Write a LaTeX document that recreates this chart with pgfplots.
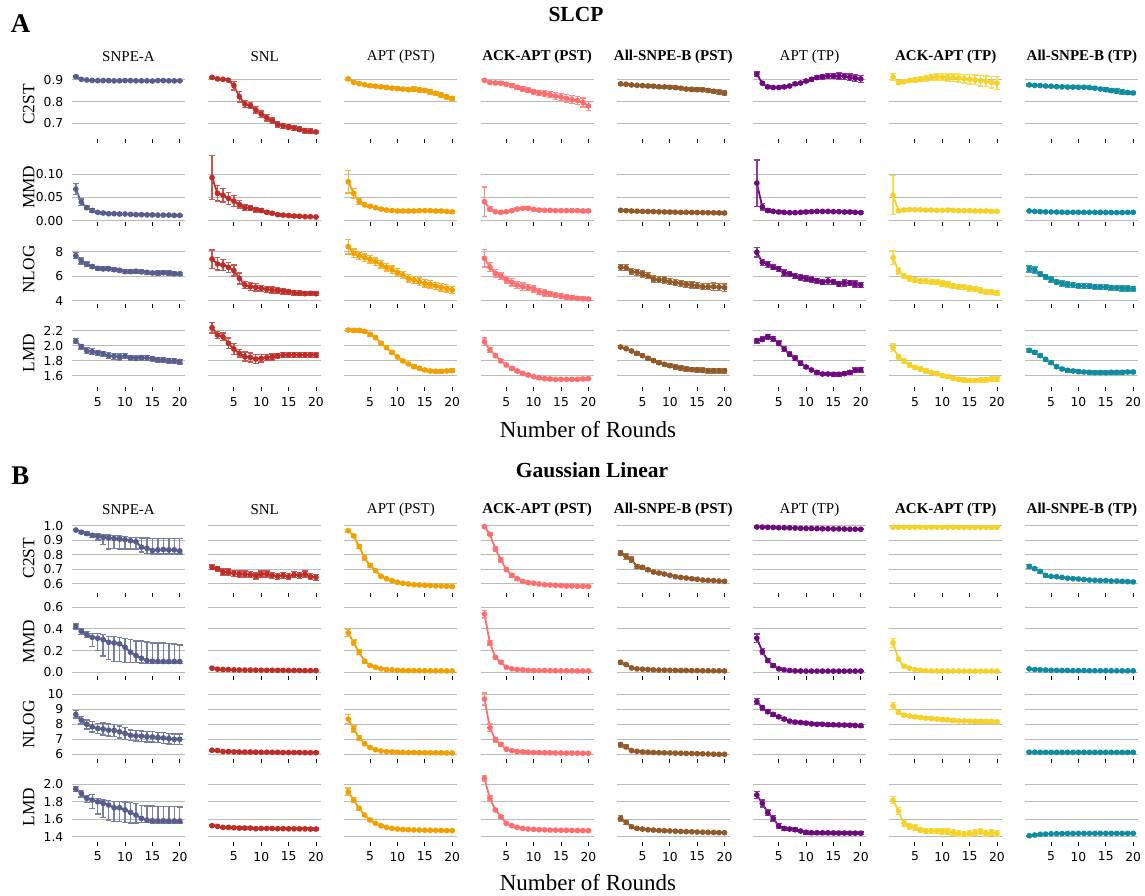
\documentclass[border=0pt]{standalone}
\usepackage{pgfplots}
\usepackage{pgfplotstable}
\pgfplotsset{compat=1.18}
\usepackage{fontspec}
\setmainfont{Liberation Serif}
\newfontfamily\dejavu{DejaVu Sans}
\definecolor{c1}{HTML}{585E8C}
\definecolor{c2}{HTML}{BE2D28}
\definecolor{c3}{HTML}{F0A000}
\definecolor{c4}{HTML}{FF6E6E}
\definecolor{c5}{HTML}{915A28}
\definecolor{c6}{HTML}{6E0A7D}
\definecolor{c7}{HTML}{F5D228}
\definecolor{c8}{HTML}{0F8CA0}
\newcommand\ticksfont{\dejavu\fontsize{12.3pt}{14pt}\selectfont}
\newcommand\coltitlefont{\fontsize{15pt}{17pt}\selectfont}
\newcommand\rowfont{\fontsize{17.3pt}{19pt}\selectfont}
\newcommand\xlabfont{\fontsize{23pt}{25pt}\selectfont}
\newcommand\titlefont{\fontsize{21.5pt}{23pt}\selectfont\bfseries}
\newcommand\letterfont{\fontsize{27pt}{29pt}\selectfont\bfseries}
\pgfdeclareplotmark{dot}{\pgfpathmoveto{\pgfpointorigin}\pgfpathlineto{\pgfpointorigin}\pgfusepathqstroke}

% Panel A, C2ST
\pgfplotstableread{
x y1 y2 y3 y4 y5 y6 y7 y8 e1 e2 e3 e4 e5 e6 e7 e8 m
1 .915 .912 .905 .898 .882 .926 .915 .877 .003 .004 .006 .005 .005 .010 .015 .005 .003
2 .903 .905 .889 .888 .880 .885 .888 .875 .002 .003 .005 .004 .004 .006 .008 .004 .002
3 .900 .903 .883 .886 .877 .868 .891 .874 .002 .003 .005 .004 .004 .005 .008 .004 .002
4 .898 .899 .878 .885 .875 .865 .897 .872 .002 .004 .005 .005 .004 .005 .008 .004 .002
5 .897 .874 .874 .880 .874 .865 .900 .871 .002 .020 .006 .006 .005 .005 .010 .004 .002
6 .897 .823 .871 .874 .872 .868 .903 .869 .002 .025 .006 .007 .005 .005 .010 .004 .002
7 .897 .789 .868 .866 .871 .872 .908 .868 .002 .015 .006 .008 .005 .005 .012 .004 .002
8 .896 .782 .865 .858 .869 .882 .912 .867 .002 .015 .007 .009 .006 .006 .013 .005 .002
9 .896 .762 .862 .852 .868 .886 .914 .867 .002 .015 .007 .010 .006 .006 .014 .005 .002
10 .897 .742 .860 .846 .866 .895 .914 .866 .002 .015 .007 .011 .006 .008 .015 .005 .002
11 .897 .726 .858 .840 .865 .903 .912 .866 .002 .015 .008 .012 .007 .008 .016 .006 .002
12 .896 .712 .855 .837 .862 .911 .911 .865 .002 .012 .008 .013 .007 .010 .017 .006 .002
13 .896 .695 .857 .832 .858 .915 .909 .862 .002 .012 .010 .014 .007 .010 .018 .007 .002
14 .896 .688 .854 .826 .857 .918 .906 .858 .002 .012 .010 .015 .008 .012 .020 .008 .002
15 .895 .683 .851 .822 .855 .918 .903 .855 .002 .012 .010 .016 .008 .012 .021 .009 .002
16 .897 .677 .846 .815 .854 .918 .900 .851 .002 .010 .010 .017 .008 .014 .022 .010 .002
17 .897 .672 .838 .809 .851 .917 .897 .848 .002 .010 .010 .018 .009 .014 .024 .010 .002
18 .896 .666 .831 .805 .848 .912 .894 .845 .002 .010 .010 .018 .009 .015 .025 .010 .002
19 .896 .663 .822 .796 .843 .908 .889 .842 .002 .010 .010 .020 .010 .015 .027 .010 .002
20 .896 .660 .815 .780 .840 .905 .885 .840 .002 .008 .008 .020 .010 .016 .030 .008 .002
}\AC

% Panel A, MMD
\pgfplotstableread{
x y1 y2 y3 y4 y5 y6 y7 y8 e1 e2 e3 e4 e5 e6 e7 e8 m
1 .068 .093 .084 .041 .0223 .081 .055 .021 .012 .047 .024 .032 .002 .050 .042 .0015 .012
2 .040 .059 .059 .025 .0216 .030 .0216 .020 .007 .017 .010 .005 .002 .007 .003 .0015 .007
3 .028 .055 .041 .0194 .0209 .022 .023 .0194 .004 .015 .006 .002 .002 .003 .002 .0015 .004
4 .022 .048 .034 .018 .0205 .020 .0237 .019 .003 .013 .004 .002 .002 .002 .002 .0015 .003
5 .018 .042 .031 .0194 .020 .0187 .0237 .0188 .002 .012 .003 .002 .002 .002 .002 .0015 .002
6 .0165 .035 .028 .0216 .0198 .018 .0237 .0185 .002 .008 .003 .002 .002 .002 .002 .0015 .002
7 .015 .028 .025 .025 .0195 .0173 .023 .0183 .0015 .006 .002 .002 .002 .002 .002 .0015 .0015
8 .015 .027 .023 .0266 .019 .0173 .023 .018 .0015 .005 .002 .002 .002 .002 .002 .0015 .0015
9 .0144 .024 .0216 .0266 .0188 .018 .0223 .018 .0015 .005 .002 .003 .002 .002 .002 .0015 .0015
10 .0144 .022 .0209 .0244 .0185 .0187 .0223 .018 .0015 .004 .002 .002 .002 .002 .002 .0015 .0015
11 .0137 .018 .0209 .023 .0183 .0194 .023 .018 .0015 .003 .002 .002 .002 .002 .002 .0015 .0015
12 .013 .016 .0209 .0223 .018 .020 .0223 .018 .0015 .003 .002 .002 .002 .002 .002 .0015 .0015
13 .013 .013 .0209 .0223 .018 .020 .0216 .018 .0015 .002 .002 .002 .002 .002 .002 .0015 .0015
14 .0125 .012 .0216 .0216 .0178 .020 .0216 .018 .0015 .002 .002 .002 .002 .002 .002 .0015 .0015
15 .0125 .011 .0216 .0216 .0176 .0194 .0216 .0178 .0015 .002 .002 .002 .002 .002 .002 .0015 .0015
16 .012 .010 .0216 .0216 .0174 .0194 .0209 .0176 .0015 .002 .002 .002 .002 .002 .002 .0015 .0015
17 .012 .0094 .0209 .0216 .0172 .0187 .0209 .0175 .0015 .002 .002 .002 .002 .002 .002 .0015 .0015
18 .012 .0086 .0209 .0216 .017 .0187 .0209 .0175 .0015 .0015 .002 .002 .002 .002 .002 .0015 .0015
19 .0115 .0086 .020 .0209 .0168 .018 .020 .018 .0015 .0015 .002 .002 .002 .002 .002 .0015 .0015
20 .0115 .0079 .0194 .021 .0165 .0173 .020 .018 .0015 .0015 .003 .002 .002 .002 .002 .0015 .0015
}\AM

% Panel A, NLOG
\pgfplotstableread{
x y1 y2 y3 y4 y5 y6 y7 y8 e1 e2 e3 e4 e5 e6 e7 e8 m
1 7.67 7.40 8.41 7.46 6.72 7.95 7.51 6.59 .25 .75 .6 .7 .25 .4 .55 .25 .25
2 7.24 7.00 7.86 6.75 6.69 7.13 6.42 6.50 .25 .5 .35 .35 .25 .25 .25 .25 .25
3 6.97 6.91 7.67 6.23 6.37 6.97 6.00 6.15 .2 .45 .3 .3 .25 .25 .2 .2 .2
4 6.78 6.72 7.51 6.00 6.31 6.72 5.82 5.93 .15 .4 .3 .25 .25 .2 .2 .2 .15
5 6.64 6.45 7.37 5.69 6.18 6.59 5.69 5.74 .15 .45 .3 .25 .25 .2 .2 .2 .15
6 6.59 5.82 7.18 5.50 6.04 6.26 5.60 5.50 .15 .45 .3 .3 .25 .25 .2 .2 .15
7 6.59 5.28 6.97 5.28 5.77 6.18 5.60 5.41 .15 .3 .3 .3 .25 .2 .2 .2 .15
8 6.53 5.14 6.72 5.14 5.71 6.00 5.55 5.33 .15 .3 .3 .3 .25 .2 .2 .2 .15
9 6.48 5.09 6.53 5.06 5.69 5.90 5.50 5.28 .15 .3 .3 .25 .25 .2 .2 .2 .15
10 6.37 5.00 6.31 4.95 5.55 5.82 5.41 5.22 .15 .25 .3 .25 .25 .2 .2 .2 .15
11 6.37 4.93 6.10 4.73 5.47 5.74 5.33 5.20 .15 .25 .3 .25 .25 .2 .2 .2 .15
12 6.40 4.87 5.82 4.63 5.41 5.63 5.20 5.17 .15 .25 .3 .25 .25 .2 .2 .2 .15
13 6.35 4.82 5.69 4.52 5.33 5.50 5.14 5.14 .15 .2 .3 .2 .25 .2 .2 .2 .15
14 6.31 4.76 5.55 4.46 5.28 5.60 5.09 5.12 .15 .2 .3 .2 .25 .3 .2 .2 .15
15 6.26 4.73 5.41 4.38 5.22 5.55 5.00 5.10 .12 .2 .3 .2 .25 .2 .2 .2 .12
16 6.26 4.65 5.33 4.30 5.14 5.36 4.93 5.06 .15 .2 .3 .15 .25 .2 .2 .2 .15
17 6.28 4.60 5.20 4.24 5.14 5.44 4.84 5.04 .15 .2 .3 .15 .25 .25 .2 .2 .15
18 6.26 4.57 5.09 4.19 5.14 5.44 4.68 5.00 .15 .15 .3 .15 .3 .2 .2 .2 .15
19 6.20 4.60 5.00 4.16 5.12 5.36 4.73 5.00 .15 .15 .3 .15 .3 .25 .2 .2 .15
20 6.20 4.57 4.87 4.14 5.06 5.28 4.65 4.98 .12 .15 .3 .12 .3 .2 .2 .2 .12
}\AN

% Panel A, LMD
\pgfplotstableread{
x y1 y2 y3 y4 y5 y6 y7 y8 e1 e2 e3 e4 e5 e6 e7 e8 m
1 2.062 2.240 2.209 2.053 1.982 2.067 1.973 1.938 .03 .07 .02 .05 .015 .03 .05 .02 .03
2 1.987 2.142 2.204 1.942 1.960 2.084 1.853 1.911 .03 .05 .02 .03 .015 .03 .03 .02 .03
3 1.933 2.120 2.204 1.867 1.929 2.120 1.796 1.867 .04 .05 .02 .02 .02 .03 .03 .02 .04
4 1.920 2.031 2.191 1.796 1.898 2.089 1.742 1.818 .04 .07 .02 .02 .02 .03 .025 .02 .04
5 1.902 1.956 2.151 1.742 1.867 2.031 1.711 1.773 .03 .07 .02 .02 .02 .03 .025 .02 .03
6 1.893 1.898 2.107 1.698 1.831 1.956 1.689 1.720 .03 .05 .02 .02 .02 .03 .025 .02 .03
7 1.867 1.853 2.031 1.662 1.800 1.884 1.662 1.689 .04 .06 .02 .015 .02 .03 .025 .02 .04
8 1.858 1.844 1.973 1.631 1.773 1.831 1.644 1.671 .04 .06 .02 .015 .02 .03 .025 .02 .04
9 1.849 1.822 1.911 1.609 1.751 1.764 1.627 1.662 .04 .06 .02 .015 .025 .03 .025 .02 .04
10 1.862 1.831 1.849 1.587 1.733 1.716 1.600 1.653 .03 .05 .02 .015 .025 .02 .025 .02 .03
11 1.840 1.840 1.796 1.573 1.716 1.676 1.587 1.649 .03 .04 .02 .015 .025 .02 .025 .02 .03
12 1.831 1.849 1.756 1.560 1.702 1.644 1.564 1.644 .03 .04 .02 .015 .025 .02 .025 .02 .03
13 1.840 1.867 1.720 1.556 1.689 1.622 1.551 1.640 .03 .03 .02 .015 .025 .02 .025 .02 .03
14 1.836 1.876 1.698 1.551 1.680 1.622 1.542 1.640 .03 .03 .02 .015 .025 .02 .025 .02 .03
15 1.827 1.876 1.676 1.551 1.676 1.618 1.538 1.640 .03 .03 .02 .015 .025 .02 .025 .02 .03
16 1.813 1.876 1.662 1.551 1.671 1.618 1.538 1.644 .03 .03 .02 .015 .03 .02 .025 .02 .03
17 1.813 1.876 1.658 1.551 1.667 1.627 1.547 1.644 .03 .03 .02 .015 .03 .02 .03 .02 .03
18 1.800 1.876 1.658 1.551 1.667 1.644 1.547 1.644 .03 .03 .02 .015 .03 .02 .03 .02 .03
19 1.796 1.876 1.662 1.556 1.667 1.671 1.551 1.649 .03 .03 .02 .015 .03 .03 .03 .02 .03
20 1.787 1.871 1.667 1.560 1.667 1.680 1.551 1.649 .03 .03 .02 .015 .03 .03 .03 .02 .03
}\AL

% Panel B, C2ST  (e1 = upper error of SNPE-A, m = its lower error)
\pgfplotstableread{
x y1 y2 y3 y4 y5 y6 y7 y8 e1 e2 e3 e4 e5 e6 e7 e8 m
1 .970 .714 .966 .993 .811 .991 .989 .720 .005 .015 .008 .005 .015 .002 .002 .012 .005
2 .955 .705 .930 .941 .789 .990 .989 .705 .008 .015 .010 .010 .020 .002 .002 .010 .008
3 .946 .682 .857 .841 .766 .989 .989 .686 .010 .020 .015 .015 .020 .002 .002 .010 .010
4 .934 .682 .777 .766 .720 .988 .989 .659 .012 .020 .015 .015 .015 .002 .002 .012 .015
5 .927 .673 .727 .698 .714 .986 .989 .652 .015 .020 .012 .012 .010 .002 .002 .008 .025
6 .920 .668 .691 .659 .698 .986 .989 .650 .015 .020 .010 .010 .010 .002 .002 .006 .050
7 .916 .668 .652 .636 .682 .985 .989 .645 .020 .020 .008 .008 .008 .002 .002 .005 .075
8 .912 .664 .636 .618 .675 .984 .989 .639 .020 .020 .006 .006 .008 .002 .002 .005 .070
9 .908 .655 .623 .609 .668 .982 .989 .636 .022 .020 .005 .005 .007 .002 .002 .005 .068
10 .904 .668 .611 .605 .659 .981 .989 .634 .021 .020 .005 .005 .006 .002 .002 .005 .064
11 .897 .668 .605 .600 .650 .981 .989 .630 .023 .020 .005 .004 .005 .002 .002 .005 .057
12 .890 .659 .600 .595 .645 .980 .989 .627 .030 .020 .004 .004 .005 .002 .002 .005 .050
13 .852 .652 .595 .593 .641 .979 .988 .625 .063 .020 .004 .004 .005 .002 .002 .005 .032
14 .845 .659 .593 .591 .636 .979 .988 .623 .070 .020 .004 .004 .005 .002 .002 .005 .035
15 .830 .650 .591 .589 .632 .978 .988 .623 .080 .020 .004 .004 .005 .002 .002 .005 .025
16 .834 .664 .589 .586 .627 .978 .988 .620 .076 .020 .004 .004 .005 .002 .002 .005 .029
17 .836 .659 .586 .586 .625 .977 .988 .620 .074 .020 .004 .004 .005 .002 .002 .005 .031
18 .834 .668 .586 .584 .623 .976 .988 .618 .076 .020 .004 .004 .005 .002 .002 .005 .029
19 .834 .650 .584 .584 .620 .976 .988 .616 .076 .020 .004 .004 .005 .002 .002 .005 .029
20 .827 .645 .582 .582 .618 .975 .988 .614 .083 .020 .004 .004 .005 .002 .002 .005 .022
}\BC

% Panel B, MMD
\pgfplotstableread{
x y1 y2 y3 y4 y5 y6 y7 y8 e1 e2 e3 e4 e5 e6 e7 e8 m
1 .422 .037 .363 .538 .092 .314 .271 .031 .023 .003 .035 .035 .015 .040 .040 .003 .022
2 .378 .028 .271 .271 .071 .191 .123 .025 .022 .003 .025 .020 .010 .030 .015 .003 .028
3 .348 .025 .185 .138 .040 .108 .055 .022 .027 .003 .020 .015 .006 .020 .010 .003 .028
4 .323 .025 .102 .092 .031 .062 .037 .020 .037 .003 .015 .010 .004 .015 .006 .003 .083
5 .314 .022 .062 .046 .028 .031 .025 .018 .046 .003 .010 .006 .003 .008 .004 .003 .114
6 .302 .021 .046 .031 .025 .022 .018 .017 .048 .003 .006 .004 .003 .005 .003 .003 .152
7 .277 .020 .031 .025 .022 .016 .014 .016 .053 .003 .004 .003 .003 .003 .003 .003 .157
8 .271 .020 .025 .022 .020 .012 .012 .016 .059 .003 .003 .003 .003 .003 .003 .003 .171
9 .262 .019 .022 .018 .019 .011 .012 .015 .058 .003 .003 .003 .003 .003 .003 .003 .162
10 .231 .019 .018 .016 .018 .010 .011 .015 .079 .003 .003 .003 .003 .003 .003 .003 .141
11 .185 .018 .016 .015 .017 .010 .011 .015 .115 .003 .003 .003 .003 .003 .003 .003 .095
12 .154 .018 .015 .015 .016 .010 .011 .014 .136 .003 .003 .003 .003 .003 .003 .003 .064
13 .129 .017 .015 .014 .016 .010 .011 .014 .161 .003 .003 .003 .003 .003 .003 .003 .044
14 .108 .017 .014 .014 .015 .010 .010 .014 .172 .003 .003 .003 .003 .003 .003 .003 .028
15 .102 .016 .014 .013 .015 .010 .010 .014 .168 .003 .003 .003 .003 .003 .003 .003 .022
16 .100 .016 .013 .013 .014 .010 .010 .013 .170 .003 .003 .003 .003 .003 .003 .003 .020
17 .099 .016 .013 .013 .014 .010 .010 .013 .171 .003 .003 .003 .003 .003 .003 .003 .019
18 .099 .015 .013 .012 .013 .010 .010 .013 .166 .003 .003 .003 .003 .003 .003 .003 .019
19 .099 .015 .012 .012 .013 .010 .010 .013 .161 .003 .003 .003 .003 .003 .003 .003 .019
20 .099 .015 .012 .012 .012 .010 .010 .013 .151 .003 .003 .003 .003 .003 .003 .003 .019
}\BM

% Panel B, NLOG
\pgfplotstableread{
x y1 y2 y3 y4 y5 y6 y7 y8 e1 e2 e3 e4 e5 e6 e7 e8 m
1 8.66 6.27 8.35 9.69 6.65 9.51 9.22 6.14 .25 .05 .30 .40 .15 .20 .25 .03 .25
2 8.28 6.25 7.68 7.77 6.49 9.11 8.79 6.14 .25 .05 .20 .25 .12 .15 .15 .03 .25
3 8.00 6.18 7.09 6.98 6.25 8.84 8.61 6.13 .30 .05 .15 .15 .06 .12 .10 .03 .30
4 7.83 6.18 6.71 6.65 6.20 8.66 8.55 6.13 .35 .05 .10 .10 .05 .10 .10 .03 .35
5 7.72 6.16 6.45 6.34 6.16 8.50 8.50 6.13 .35 .05 .08 .08 .05 .10 .10 .03 .35
6 7.68 6.15 6.31 6.25 6.14 8.35 8.46 6.13 .40 .05 .06 .06 .05 .08 .10 .03 .40
7 7.61 6.15 6.22 6.18 6.12 8.21 8.41 6.13 .40 .05 .05 .05 .05 .08 .10 .03 .40
8 7.59 6.15 6.18 6.16 6.11 8.15 8.39 6.13 .40 .05 .05 .05 .05 .08 .10 .03 .40
9 7.50 6.14 6.16 6.14 6.10 8.12 8.35 6.13 .40 .05 .05 .05 .05 .08 .10 .03 .40
10 7.39 6.14 6.14 6.12 6.09 8.08 8.32 6.13 .40 .05 .05 .05 .05 .08 .10 .03 .40
11 7.27 6.14 6.13 6.11 6.08 8.03 8.30 6.13 .35 .05 .05 .05 .05 .08 .10 .03 .35
12 7.23 6.13 6.12 6.10 6.07 8.00 8.26 6.13 .35 .05 .05 .05 .05 .08 .10 .03 .35
13 7.21 6.13 6.12 6.10 6.06 8.00 8.23 6.13 .35 .05 .05 .05 .05 .08 .10 .03 .35
14 7.18 6.12 6.11 6.09 6.05 7.98 8.22 6.13 .35 .05 .05 .05 .05 .08 .10 .03 .35
15 7.16 6.12 6.11 6.09 6.04 7.97 8.21 6.13 .35 .05 .05 .05 .05 .08 .10 .03 .35
16 7.12 6.12 6.10 6.08 6.03 7.96 8.20 6.13 .35 .05 .05 .05 .05 .08 .10 .03 .35
17 7.09 6.12 6.10 6.08 6.02 7.95 8.20 6.13 .35 .05 .05 .05 .05 .08 .10 .03 .35
18 7.05 6.11 6.10 6.08 6.01 7.94 8.19 6.13 .35 .05 .05 .05 .05 .08 .10 .03 .35
19 7.00 6.11 6.09 6.07 6.00 7.92 8.18 6.13 .35 .05 .05 .05 .05 .08 .10 .03 .35
20 7.00 6.11 6.09 6.07 6.00 7.91 8.17 6.13 .35 .05 .05 .05 .05 .08 .10 .03 .35
}\BN

% Panel B, LMD  (e1 = upper error of SNPE-A, m = its lower error)
\pgfplotstableread{
x y1 y2 y3 y4 y5 y6 y7 y8 e1 e2 e3 e4 e5 e6 e7 e8 m
1 1.946 1.526 1.916 2.069 1.610 1.878 1.820 1.411 .03 .01 .04 .03 .03 .04 .04 .006 .03
2 1.897 1.518 1.820 1.839 1.564 1.782 1.694 1.419 .03 .01 .03 .025 .025 .04 .04 .006 .04
3 1.839 1.507 1.725 1.706 1.515 1.675 1.553 1.427 .035 .01 .02 .02 .015 .03 .035 .006 .05
4 1.820 1.507 1.648 1.629 1.495 1.610 1.515 1.430 .06 .01 .015 .015 .01 .03 .03 .006 .10
5 1.800 1.503 1.591 1.553 1.488 1.522 1.503 1.434 .04 .01 .012 .01 .008 .03 .03 .006 .14
6 1.782 1.499 1.553 1.526 1.480 1.495 1.476 1.435 .04 .01 .01 .008 .008 .025 .03 .006 .16
7 1.763 1.499 1.526 1.507 1.476 1.488 1.465 1.436 .05 .01 .008 .008 .008 .02 .03 .006 .17
8 1.732 1.499 1.507 1.495 1.472 1.480 1.465 1.437 .07 .01 .008 .008 .008 .02 .03 .006 .16
9 1.732 1.492 1.495 1.488 1.469 1.465 1.465 1.437 .07 .01 .008 .008 .008 .02 .03 .006 .16
10 1.706 1.495 1.488 1.484 1.466 1.450 1.457 1.438 .09 .01 .008 .008 .008 .02 .03 .006 .14
11 1.679 1.495 1.484 1.480 1.463 1.446 1.457 1.438 .11 .01 .008 .008 .008 .015 .03 .006 .12
12 1.648 1.495 1.480 1.478 1.460 1.446 1.450 1.438 .13 .01 .008 .008 .008 .015 .03 .006 .09
13 1.610 1.492 1.478 1.476 1.458 1.445 1.438 1.438 .15 .01 .008 .008 .008 .015 .03 .006 .05
14 1.591 1.492 1.476 1.475 1.456 1.444 1.430 1.438 .16 .01 .008 .008 .008 .015 .03 .006 .03
15 1.583 1.490 1.475 1.474 1.454 1.443 1.438 1.438 .17 .01 .008 .008 .008 .015 .03 .006 .025
16 1.583 1.490 1.474 1.473 1.452 1.442 1.450 1.438 .165 .01 .008 .008 .008 .015 .03 .006 .025
17 1.583 1.490 1.473 1.472 1.450 1.442 1.457 1.438 .165 .01 .008 .008 .008 .015 .03 .006 .025
18 1.580 1.490 1.472 1.471 1.449 1.441 1.438 1.438 .165 .01 .008 .008 .008 .015 .03 .006 .025
19 1.580 1.488 1.470 1.470 1.447 1.441 1.450 1.438 .165 .01 .008 .008 .008 .015 .03 .006 .025
20 1.580 1.488 1.469 1.469 1.446 1.440 1.440 1.438 .16 .01 .008 .008 .008 .015 .03 .006 .025
}\BL

\pgfplotsset{
  cell/.style={
    scale only axis, width=113pt, height=69pt,
    xmin=0.3, xmax=20.96,
    axis lines*=left,
    axis line style={draw=none},
    xtick={5,10,15,20},
    tick align=outside,
    major tick length=4pt,
    tick style={black, line width=0.9pt},
    ytick style={draw=none},
    ymajorgrids,
    major grid style={draw=black!27, line width=1pt},
    tick label style={font=\ticksfont},
    yticklabel style={inner sep=0pt, anchor=east, xshift=-4.5pt},
    xticklabel style={inner sep=0pt, anchor=north, yshift=-6pt},
    clip=false,
  },
  ser/.style={color=#1, line width=1.8pt, line cap=round, line join=round, mark=dot,
    mark options={line width=5.8pt},
    error bars/y dir=both, error bars/y explicit,
    error bars/draw error bar/.code 2 args={%
      \draw[line width=1.4pt, line cap=butt, color=#1!80!white] ##1 -- ##2 ++(-2.8pt,0pt) -- ++(5.6pt,0pt);}},
}

% #1 table, #2 bottom (px from top), #3 ymin, #4 ymax, #5 ytick, #6 yticklabels, #7 bottom row flag, #8 row label
\newcommand\drawrow[8]{%
  \foreach \col in {1,...,8}{%
    \pgfmathsetmacro\xpos{72+136.2*(\col-1)}%
    \pgfmathsetmacro\ypos{896-#2}%
    \ifnum\col=1 \def\mcol{m}\pgfplotsset{ylab/.style={yticklabels={#6}}}%
    \else\edef\mcol{e\col}\pgfplotsset{ylab/.style={yticklabels={{},{},{},{},{}}}}\fi
    \ifnum#7=1 \pgfplotsset{xlab/.style={xticklabels={5,10,15,20}}}%
    \else\pgfplotsset{xlab/.style={xticklabels={{},{},{},{}}}}\fi
    \begin{axis}[cell, ylab, xlab, at={(\xpos pt,\ypos pt)}, anchor=south west,
      ymin=#3, ymax=#4, ytick={#5}]
      \addplot[ser=c\col] table[x=x, y=y\col, y error plus=e\col, y error minus=\mcol] {#1};
    \end{axis}
  }%
  \pgfmathsetmacro\ylab{896-#2+34.5}%
  \node[rotate=90, font=\rowfont] at (28.8pt,\ylab pt) {#8};
}

\begin{document}
\begin{tikzpicture}
\path[use as bounding box] (0,0) rectangle (1145pt,896pt);

% Panel A
\drawrow{\AC}{139}{0.6275}{0.946}{0.7,0.8,0.9}{0.7,0.8,0.9}{0}{C2ST}
\drawrow{\AM}{221.7}{-0.0022}{0.1466}{0,0.05,0.1}{0.00,0.05,0.10}{0}{MMD}
\drawrow{\AN}{304}{3.73}{9.36}{4,6,8}{4,6,8}{0}{NLOG}
\drawrow{\AL}{387.3}{1.445}{2.365}{1.6,1.8,2.0,2.2}{1.6,1.8,2.0,2.2}{1}{LMD}

% Panel B
\drawrow{\BC}{592.7}{0.540}{1.0137}{0.6,0.7,0.8,0.9,1.0}{0.6,0.7,0.8,0.9,1.0}{0}{C2ST}
\drawrow{\BM}{676}{-0.035}{0.603}{0,0.2,0.4,0.6}{0.0,0.2,0.4,0.6}{0}{MMD}
\drawrow{\BN}{759}{5.687}{10.287}{6,7,8,9,10}{6,7,8,9,10}{0}{NLOG}
\drawrow{\BL}{841.7}{1.343}{2.133}{1.4,1.6,1.8,2.0}{1.4,1.6,1.8,2.0}{1}{LMD}

% column titles
\foreach \col/\name in {1/SNPE-A, 2/SNL, 3/APT (PST), 4/\textbf{ACK-APT (PST)}, 5/\textbf{All-SNPE-B (PST)}, 6/APT (TP), 7/\textbf{ACK-APT (TP)}, 8/\textbf{All-SNPE-B (TP)}}{
  \pgfmathsetmacro\xc{128.5+136.2*(\col-1)}
  \node[font=\coltitlefont] at (\xc pt, 839pt) {\name};
  \node[font=\coltitlefont] at (\xc pt, 386pt) {\name};
}

% titles and labels
\node[font=\letterfont] at (20.5pt, 872pt) {A};
\node[font=\letterfont] at (20.5pt, 420pt) {B};
\node[font=\titlefont] at (576pt, 881pt) {SLCP};
\node[font=\titlefont] at (592pt, 426pt) {Gaussian Linear};
\node[font=\xlabfont] at (588pt, 466pt) {Number of Rounds};
\node[font=\xlabfont] at (588pt, 13pt) {Number of Rounds};
\end{tikzpicture}
\end{document}
